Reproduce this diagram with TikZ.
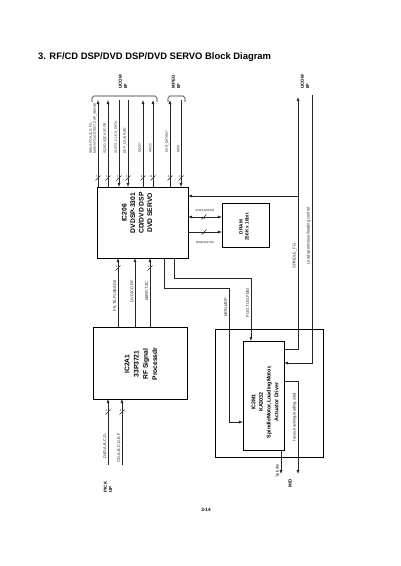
\documentclass[tikz,border=0pt]{standalone}
\usepackage{fontspec}
\setmainfont{Liberation Sans}
\usetikzlibrary{arrows.meta, positioning}

% slash on a bus line with its width
\newcommand{\busmark}[4][above left]{%
  \draw[sig] (#2-2.5,#3+2.5) -- (#2+2.5,#3-2.5);
  \node[busnum, #1] at (#2,#3) {#4};}

\begin{document}
\begin{tikzpicture}[x=1.4875pt, y=-1.4875pt, >={Latex[length=6pt,width=4.5pt]}]
\tikzstyle{blk} = [rectangle, draw, line width=1pt, inner sep=0pt, outer sep=0pt]
\tikzstyle{blktext} = [rotate=90, align=center, font=\bfseries\fontsize{10}{12.6}\selectfont]
\tikzstyle{sig} = [draw=black!85, line width=0.8pt]
\tikzstyle{toplab} = [rotate=90, anchor=south west, inner sep=0.5pt, text=black!85, align=left, font=\fontsize{5}{6}\selectfont]
\tikzstyle{sidelab} = [rotate=90, anchor=south east, inner sep=0.5pt, text=black!85, font=\fontsize{6}{7}\selectfont]
\tikzstyle{busnum} = [inner sep=0.8pt, text=black!85, font=\fontsize{4}{4.5}\selectfont]
\tikzstyle{port} = [rotate=90, align=left, font=\bfseries\fontsize{6.5}{8}\selectfont]

\useasboundingbox (0,0) rectangle (400,566);

\node (title) [anchor=base west, inner sep=0pt, font=\bfseries\fontsize{14}{16}\selectfont] at (38,59) {3. RF/CD DSP/DVD DSP/DVD SERVO Block Diagram};
\node (page) [font=\bfseries\fontsize{7}{8}\selectfont] at (206,510) {3-14};

% Blocks
\node (dsp) [blk, minimum width=135.4pt, minimum height=105.6pt] at (142.5,222.5) {};
\node (rf) [blk, minimum width=139.8pt, minimum height=107.1pt] at (140,363) {};
\node (servo) [blk, minimum width=160.7pt, minimum height=190.4pt] at (269,393) {};
\node (drv) [blk, minimum width=61pt, minimum height=162.1pt] at (263.5,395.5) {};
\node (dram) [blk, minimum width=69.9pt, minimum height=65.5pt] at (245.5,225) {};

\node (dsptext) [blktext] at (137,213) {IC206\\DVDSP-3301\\CD/DVD DSP\\DVD SERVO};
\node (rftext) [blktext, font=\bfseries\fontsize{10}{13.8}\selectfont] at (141,364) {IC2A1\\33P3721\\RF Signal\\Processdr};
\node (drvtext) [blktext, font=\bfseries\fontsize{8}{11.5}\selectfont] at (265,402) {IC2M1\\KA3032\\SpindleMotor,LoadingMotor,\\Actuator Driver};
\node (dramtext) [blktext, font=\bfseries\fontsize{7}{8.8}\selectfont] at (244,227) {DRAM\\256K x 16bit};

% Interface names
\node (ucom) [port] at (123,82) {UCOM\\I/F};
\node (mpeg) [port] at (176,82) {MPEG\\I/F};
\node (ucom2) [port] at (305,82) {UCOM\\I/F};
\node (pickup) [port] at (108,487) {PICK\\UP};
\node (md) [port] at (290,483) {M/D};

\draw[sig, rounded corners=2.5pt] (92,102) -- (92,96) -- (157,96) -- (157,102);
\draw[sig, rounded corners=2.5pt] (168,102) -- (168,96) -- (185,96) -- (185,102);

% DSP <-> UCOM / MPEG
\coordinate (t1) at (98,100);
\coordinate (t2) at (108,100);
\coordinate (t3) at (119,100);
\coordinate (t4) at (128,100);
\coordinate (t5) at (143,100);
\coordinate (t6) at (153,100);
\coordinate (t7) at (170,100);
\coordinate (t8) at (181,100);
\draw[sig,->] (t1 |- dsp.north) -- (t1);
\draw[sig,->] (t2 |- dsp.north) -- (t2);
\draw[sig,->] (t3) -- (t3 |- dsp.north);
\draw[sig,->] (t4) -- (t4 |- dsp.north);
\draw[sig,->] (t5 |- dsp.north) -- (t5);
\draw[sig,->] (t6 |- dsp.north) -- (t6);
\draw[sig,->] (t7 |- dsp.north) -- (t7);
\draw[sig,->] (t8) -- (t8 |- dsp.north);
\node (l1) [toplab] at (97,154) {SENS,FOK,SLD, FG,\\MAGIATO,DETECT,DSP\_SENSE};
\node (l2) [toplab] at (107,154) {SQSO,SQCK,SCOR};
\node (l3) [toplab] at (118,154) {XLATS ,CLK,S\_DATA};
\node (l4) [toplab] at (127,154) {DSP\_CS,WR,RD};
\node (l5) [toplab] at (142,153) {DQ0/7};
\node (l6) [toplab] at (152,153) {A0/15};
\node (l7) [toplab] at (169,153) {DVD\_DATA0/7};
\node (l8) [toplab] at (180,153) {MCK};
\busmark{98}{178}{7}
\busmark{108}{178}{3}
\busmark{119}{178}{3}
\busmark{128}{178}{3}
\busmark{143}{178}{8}
\busmark{153}{178}{16}
\busmark{170}{178}{8}
\busmark{181}{178}{2}

% DSP <-> DRAM
\coordinate (dq) at (0,217);
\coordinate (da) at (0,232);
\draw[sig,<->] (dq -| dsp.east) -- (dq -| dram.west);
\draw[sig,->] (da -| dsp.east) -- (da -| dram.west);
\node (dqlab) [busnum, rotate=180, font=\fontsize{4.5}{5}\selectfont] at (205,211) {IOCDATA0/15};
\node (dalab) [busnum, rotate=180, font=\fontsize{4.5}{5}\selectfont] at (205,243) {IOCADDR0/8};
\busmark[below]{204}{217}{16}
\busmark[below]{204}{232}{9}

% RF -> DSP
\coordinate (b1) at (118,0);
\coordinate (b2) at (135,0);
\coordinate (b3) at (150,0);
\draw[sig,->] (b1 |- rf.north) -- (b1 |- dsp.south);
\draw[sig,->] (b2 |- rf.north) -- (b2 |- dsp.south);
\draw[sig,->] (b3 |- rf.north) -- (b3 |- dsp.south);
\node (lb1) [sidelab] at (117,280) {FE,TE,PI,SBAD0};
\node (lb2) [sidelab] at (134,280) {DVD/CD RF};
\node (lb3) [sidelab] at (149,281) {MIRR,TZC};
\busmark{118}{268}{4}
\busmark{150}{268}{2}

% Pick up -> RF
\coordinate (p1) at (108,465);
\coordinate (p2) at (122,465);
\draw[sig,->] (p1) -- (p1 |- rf.south);
\draw[sig,->] (p2) -- (p2 |- rf.south);
\node (lp1) [sidelab] at (107,433) {DVD:A,B,C,D,};
\node (lp2) [sidelab] at (121,433) {CD:A,B,C,D,E,F};
\busmark{108}{412}{4}
\busmark{122}{412}{6}

% DSP -> driver
\coordinate (monA) at (164,288);
\coordinate (monB) at (229,422);
\draw[sig,->] (monA |- dsp.south) -- (monA) -| (monB) -- (monB -| drv.west);
\coordinate (fooA) at (174,278);
\coordinate (fooB) at (251,0);
\draw[sig,->] (fooA |- dsp.south) -- (fooA) -| (fooB |- drv.north);
\node (lmon) [sidelab] at (228,297) {MON,MDP};
\node (lfoo) [sidelab] at (250,288) {FOO,TOO,FMO};

% driver <-> UCOM
\coordinate (sfgA) at (298,349);
\coordinate (sfgTop) at (298,97);
\coordinate (sfgB) at (298,196);
\draw[sig,->] (sfgA -| drv.east) -- (sfgA) -- (sfgTop);
\draw[sig,->] (sfgB) -- (sfgB -| dsp.east);
\coordinate (ldTop) at (312,95);
\coordinate (ldB) at (312,363);
\draw[sig,->] (ldTop) -- (ldB) -- (ldB -| drv.east);
\node (lsfg) [sidelab] at (297,243) {SPINDLE\_FG};
\node (lld) [sidelab] at (311,207) {Load open/close/loading control};

% driver -> M/D
\coordinate (fcA) at (298,381);
\coordinate (fcB) at (298,474);
\draw[sig,->] (fcA -| drv.east) -- (fcA) -- (fcB);
\coordinate (spB) at (281,474);
\draw[sig,->] (spB |- drv.south) -- (spB);
\node (lfc) [sidelab] at (297,393) {focus,tracking,loading,sled};
\node (lsp) [sidelab] at (280,464) {Spindle};

\end{tikzpicture}
\end{document}
